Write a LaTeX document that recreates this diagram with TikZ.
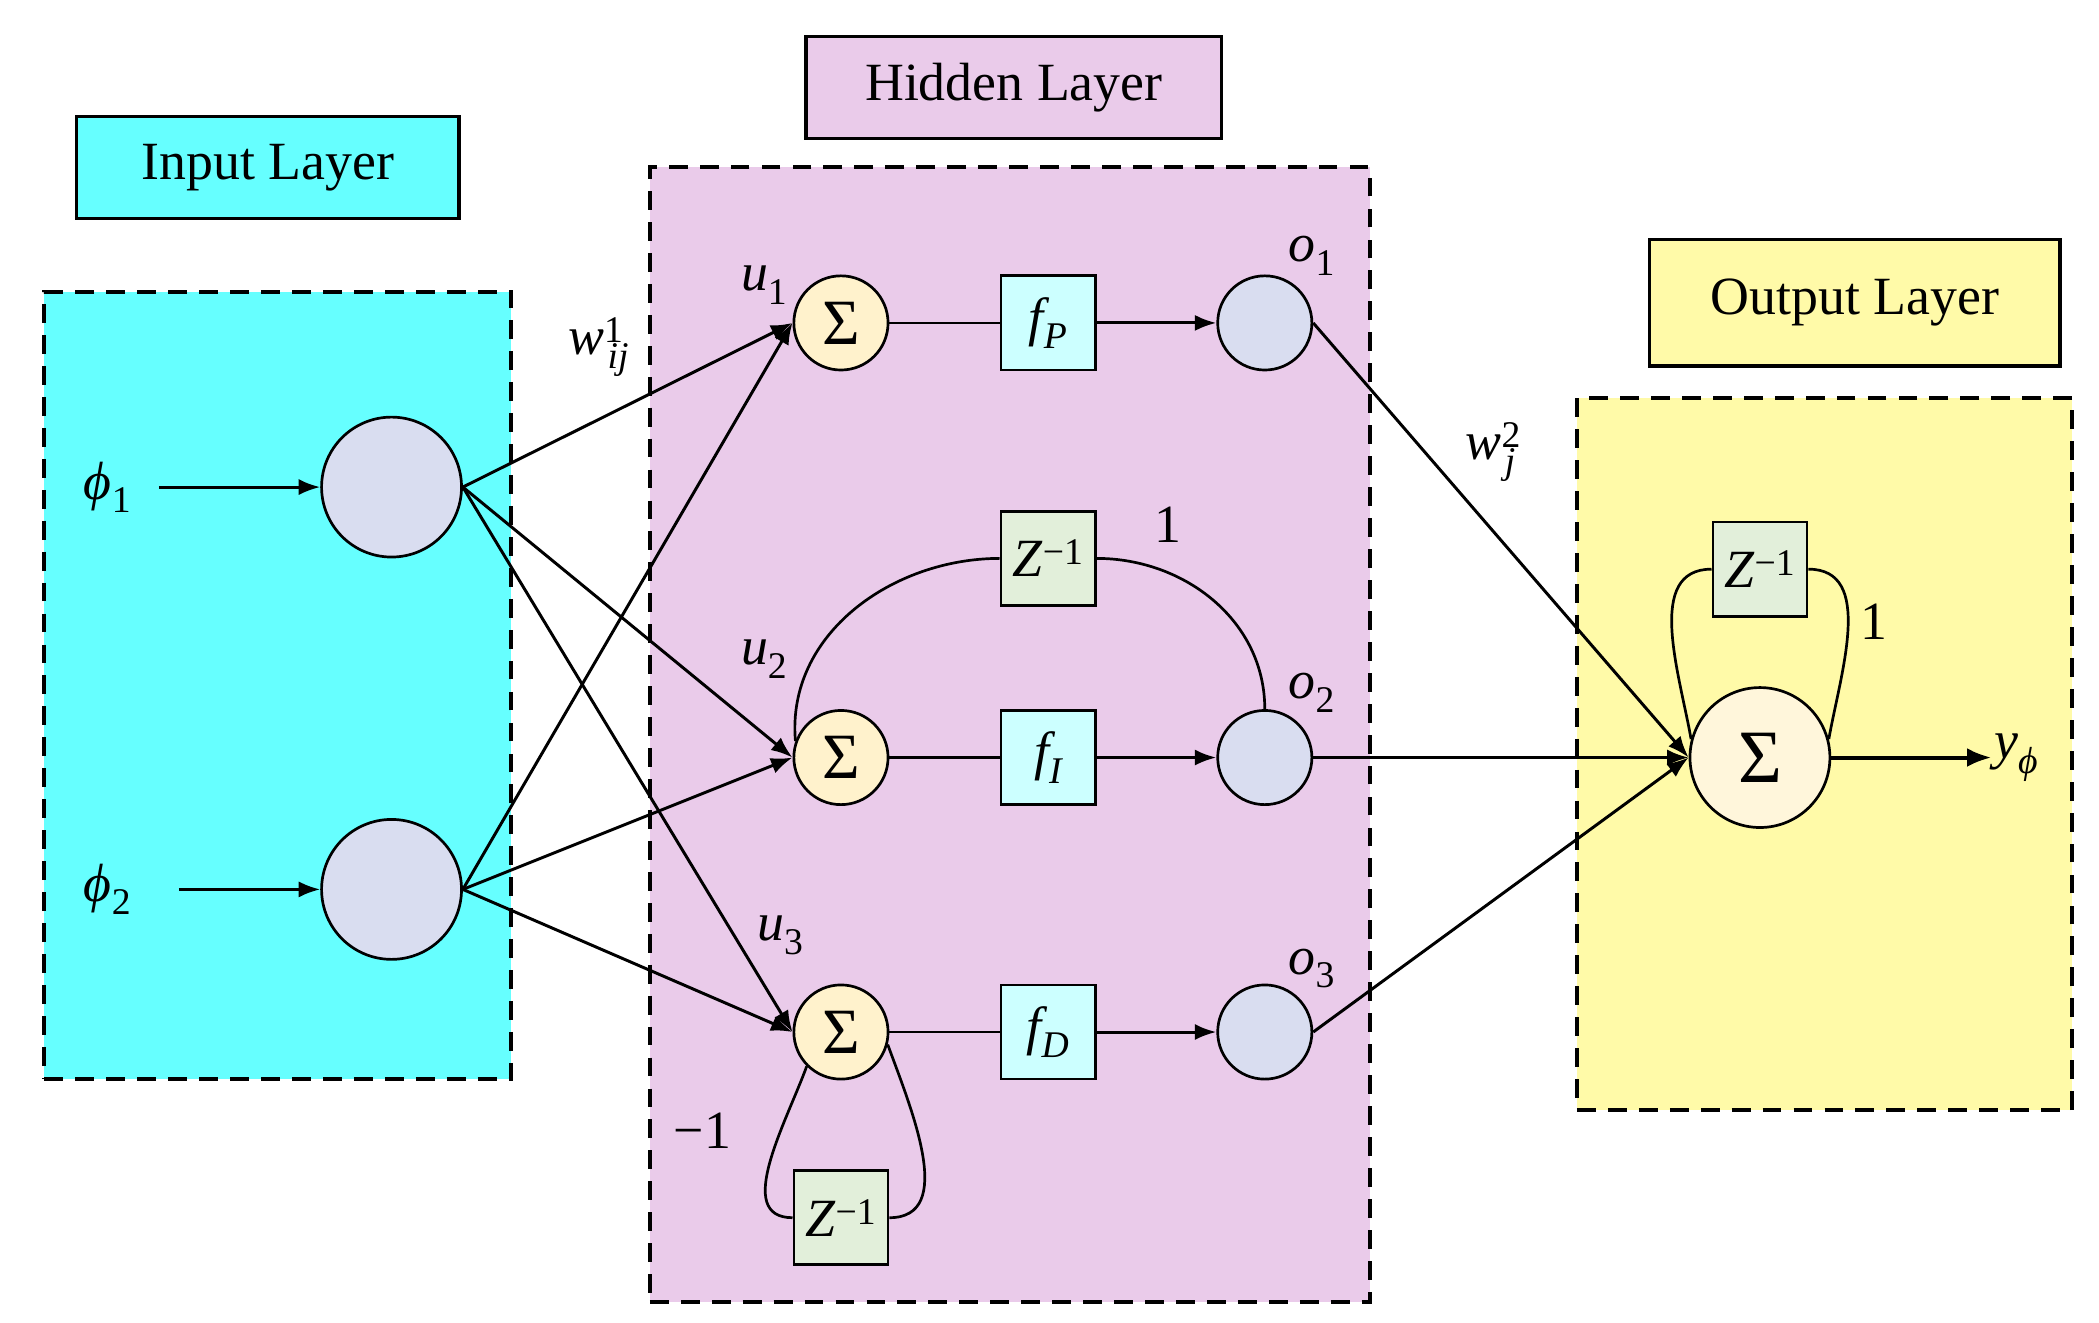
\documentclass[tikz,border=0pt]{standalone}
\usepackage{fontspec}
\setmainfont{Liberation Serif}
\usetikzlibrary{arrows.meta}
\definecolor{cin}{HTML}{66FFFF}
\definecolor{chid}{HTML}{EACBEA}
\definecolor{cout}{HTML}{FFFAA8}
\definecolor{cneu}{HTML}{D9DDF0}
\definecolor{csig}{HTML}{FFF2CC}
\definecolor{cf}{HTML}{CCFFFF}
\definecolor{cz}{HTML}{E2EFDA}
\newcommand{\mysb}[1]{\textsubscript{\itshape #1}}
\newcommand{\mysp}[1]{\textsuperscript{#1}}
\begin{document}
\begin{tikzpicture}[x=1pt,y=-1pt,
  every node/.style={font=\fontsize{40}{48}\selectfont},
  layer/.style={draw,line width=3pt,dash pattern=on 14pt off 9pt},
  title/.style={draw,line width=2.5pt,minimum height=76pt,inner sep=0pt},
  neu/.style={circle,draw,line width=2pt,fill=cneu,minimum size=104pt},
  sig/.style={circle,draw,line width=2pt,fill=csig,minimum size=70pt,inner sep=0pt,font=\fontsize{48}{50}\selectfont},
  on/.style={circle,draw,line width=2pt,fill=cneu,minimum size=70pt},
  fb/.style={draw,line width=2pt,fill=cf,minimum size=70pt,inner sep=0pt},
  zb/.style={draw,line width=2pt,fill=cz,minimum size=70pt,inner sep=0pt},
  ar/.style={line width=2.2pt,-{Latex[length=16pt,width=12pt]}},
  ln/.style={line width=2pt}]
\useasboundingbox (0,0) rectangle (1560,983);
% layers
\node[layer,fill=cin,minimum width=347pt,minimum height=585pt,inner sep=0pt] (inbox) at (206.5,509.5) {};
\node[layer,fill=chid,minimum width=535pt,minimum height=844pt,inner sep=0pt] (hidbox) at (750.5,546) {};
\node[layer,fill=cout,minimum width=368pt,minimum height=529pt,inner sep=0pt] (outbox) at (1356,560.5) {};
\node[title,fill=cin,minimum width=284pt] (tin) at (199,124.5) {Input Layer};
\node[title,fill=chid,minimum width=309pt] (thid) at (753.5,65) {Hidden Layer};
\node[title,fill=cout,minimum width=305pt,minimum height=94pt] (tout) at (1378.5,225) {Output Layer};
% input
\node[neu] (i1) at (291,362) {};
\node[neu] (i2) at (291,661) {};
\node (p1) at (80,362) {\itshape ϕ\mysb{\upshape 1}};
\node (p2) at (80,661) {\itshape ϕ\mysb{\upshape 2}};
\coordinate (p1e) at (118,362);
\coordinate (p2e) at (133,661);
\draw[ar] (p1e) -- (i1);
\draw[ar] (p2e) -- (i2);
% hidden
\foreach \n/\y/\s in {1/240/P,2/563/I,3/767/D}{
  \node[sig] (s\n) at (625,\y) {Σ};
  \node[fb] (f\n) at (779,\y) {\itshape f\mysb{\s}};
  \node[on] (o\n) at (940,\y) {};
  \draw[ln] (s\n) -- (f\n);
  \draw[ar] (f\n) -- (o\n);
}
\node[zb] (z2) at (779,415) {\itshape Z\mysp{\upshape −1}};
\node[zb] (z3) at (625,905) {\itshape Z\mysp{\upshape −1}};
\draw[ln] (s2.160) to[out=95,in=180] (z2.west);
\draw[ln] (z2.east) to[out=0,in=90] (o2.north);
\draw[ln] (s3.225) to[out=250,in=180] (z3.west);
\draw[ln] (z3.east) to[out=0,in=-70] (s3.-15);
\node (one1) at (868,390) {1};
\node (m1) at (522,840) {−1};
% labels
\node (u1) at (568,212) {\itshape u\mysb{\upshape 1}};
\node (u2) at (568,490) {\itshape u\mysb{\upshape 2}};
\node (u3) at (580,695) {\itshape u\mysb{\upshape 3}};
\node (lo1) at (975,190) {\itshape o\mysb{\upshape 1}};
\node (lo2) at (975,515) {\itshape o\mysb{\upshape 2}};
\node (lo3) at (975,720) {\itshape o\mysb{\upshape 3}};
\node (w1) at (445,258) {\itshape w\mysp{\upshape 1}\kern-0.3em\mysb{ij}};
\node (w2) at (1108,336) {\itshape w\mysp{\upshape 2}\kern-0.3em\mysb{j}};
% input to hidden
\foreach \i in {1,2}{\foreach \s in {1,2,3}{\draw[ar] (i\i.east) -- (s\s.west);}}
% output
\node[sig,minimum size=104pt,fill=csig!70!white,font=\fontsize{56}{60}\selectfont] (so) at (1308,563) {Σ};
\node[zb] (zo) at (1308,423) {\itshape Z\mysp{\upshape −1}};
\draw[ln] (so.165) to[out=100,in=180] (zo.west);
\draw[ln] (zo.east) to[out=0,in=80] (so.15);
\node (one2) at (1393,462) {1};
\foreach \n in {1,2,3}{\draw[ar] (o\n.east) -- (so.west);}
\coordinate (ye) at (1480,563);
\draw[line width=3pt,-{Latex[length=18pt,width=14pt]}] (so) -- (ye);
\node[anchor=west,inner sep=2pt] (y) at (ye) {\itshape y\mysb{ϕ}};
\end{tikzpicture}
\end{document}
